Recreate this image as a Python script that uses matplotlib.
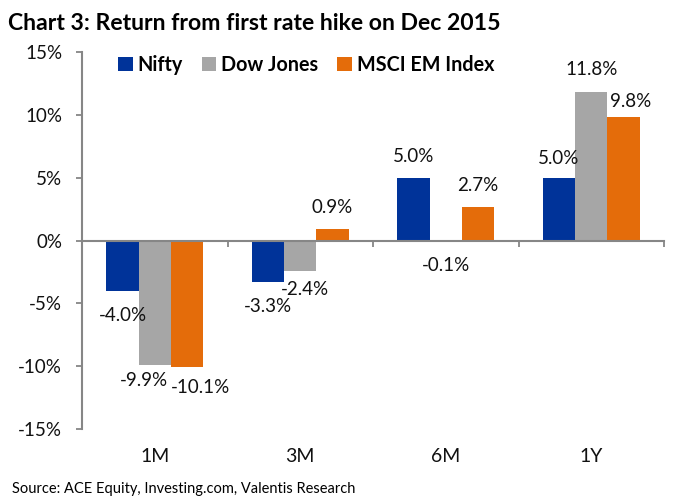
import matplotlib
matplotlib.use('Agg')
import matplotlib.pyplot as plt
from matplotlib.patches import Patch
import numpy as np

categories = ['1M', '3M', '6M', '1Y']
series_names = ['Nifty', 'Dow Jones', 'MSCI EM Index']
nifty = [-4.0, -3.3, 5.0, 5.0]
dow_jones = [-9.9, -2.4, -0.1, 11.8]
msci_em = [-10.1, 0.9, 2.7, 9.8]
yticks = [-15, -10, -5, 0, 5, 10, 15]
title = 'Chart 3: Return from first rate hike on Dec 2015'
source = 'Source: ACE Equity, Investing.com, Valentis Research'

colors = ['#003399', '#A6A6A6', '#E46C0A']
axis_color = '#868686'
text_color = '#111111'

plt.rcParams['font.family'] = ['Lato', 'DejaVu Sans']

W, H = 678, 501
fig = plt.figure(figsize=(W / 100, H / 100), dpi=100)
ax = fig.add_axes([82 / W, 1 - 429 / H, (664 - 82) / W, (429 - 52) / H])

x = np.arange(len(categories))
w = 0.222
series = [nifty, dow_jones, msci_em]
# label placement offsets in pixels (series index -> per category)
label_dx = [[0, 0, 0, 0], [-11, 5, 0, 0], [13, 0, 0, 7]]
label_dy = [[-25, -25, 21, 19], [-16, -19, -24, 23], [-20, 22, 21, 16]]
px = 0.72
for i, (vals, c, name) in enumerate(zip(series, colors, series_names)):
    bars = ax.bar(x + (i - 1) * w, vals, w, color=c, label=name, zorder=2)
    for j, (b, v) in enumerate(zip(bars, vals)):
        ax.annotate(f'{v:.1f}%', (b.get_x() + b.get_width() / 2, v),
                    xytext=(label_dx[i][j] * px, label_dy[i][j] * px),
                    textcoords='offset points',
                    ha='center', va='center', fontsize=13.5, color=text_color)

ax.set_xlim(-0.5, len(categories) - 0.5)
ax.set_ylim(-15, 15)
ax.set_yticks(yticks)
ax.set_yticklabels([f'{t}%' for t in yticks], fontsize=13.5, color=text_color)
ax.tick_params(axis='y', direction='out', length=4.3, width=1.3,
               color=axis_color, pad=10)

ax.set_xticks([len(categories) - 0.5] + list(x[:-1] + 0.5))
ax.tick_params(axis='x', direction='out', length=4.3, width=1.3,
               color=axis_color, labelbottom=False)

for s in ['top', 'right']:
    ax.spines[s].set_visible(False)
ax.spines['left'].set_color(axis_color)
ax.spines['left'].set_linewidth(1.5)
ax.spines['bottom'].set_color(axis_color)
ax.spines['bottom'].set_linewidth(1.5)
ax.spines['bottom'].set_position(('data', 0))
ax.spines['bottom'].set_zorder(3)

for xi, cat in zip(x, categories):
    ax.text(xi, -(457 - 429) / 377, cat, transform=ax.get_xaxis_transform(),
            ha='center', va='center', fontsize=14, color=text_color)

handles = [Patch(facecolor=c, label=n) for c, n in zip(colors, series_names)]
fig.legend(handles=handles, loc='center left',
           bbox_to_anchor=(118 / W, 1 - 65 / H), ncol=3, frameon=False,
           borderpad=0, borderaxespad=0, handlelength=0.75, handleheight=0.65,
           handletextpad=0.25, columnspacing=0.95,
           prop={'weight': 'bold', 'size': 14.2})

fig.text(8 / W, 1 - 24 / H, title, fontsize=16.6, fontweight='bold',
         ha='left', va='center', color='#000000')
fig.text(12 / W, 1 - 489 / H, source, fontsize=10.5, ha='left',
         va='center', color='#000000')

fig.savefig('out.png', dpi=100)
